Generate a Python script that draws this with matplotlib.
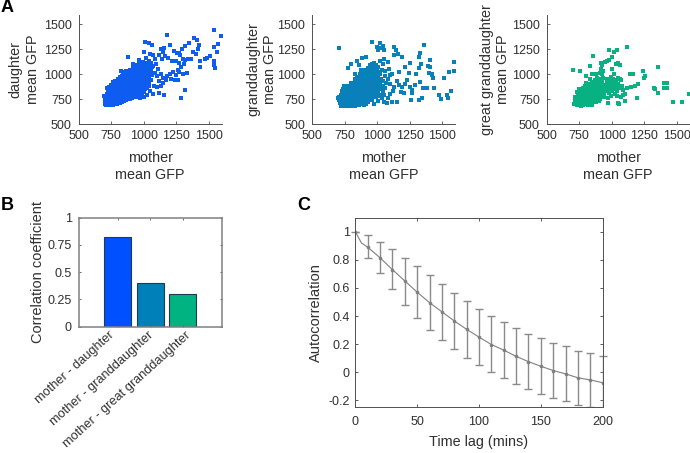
import matplotlib
matplotlib.use('Agg')
import matplotlib.pyplot as plt
from matplotlib.transforms import ScaledTranslation

plt.rcParams['font.family'] = ['Liberation Sans', 'DejaVu Sans']

W, H = 690, 453
tick_vals = [500, 750, 1000, 1250, 1500]
blue = '#0f5df0'
teal = '#0a80ba'
green = '#08b182'
text_col = '#303030'

# scatter values: mother GFP, offspring GFP
daughter_pts = [
 (695,785),(704,700),(706,730),(702,760),(712,690),(722,715),(716,745),(724,775),(718,805),(722,835),(716,865),
 (735,692),(740,722),(733,750),(741,778),(735,808),(740,838),(734,868),(748,690),(752,716),(758,744),(750,772),
 (757,802),(750,830),(756,860),(750,890),(766,695),(770,722),(764,752),(771,782),(765,810),(770,838),(764,868),(770,898),(764,925),
 (782,698),(788,726),(780,756),(787,784),(781,812),(788,842),(780,872),(787,900),(780,930),(798,702),(804,732),(796,760),(803,788),
 (797,816),(804,846),(796,874),(803,904),(797,935),(806,950),(814,712),(820,740),(812,768),(819,798),(813,826),(820,854),(812,884),
 (819,912),(813,942),(820,972),(830,722),(836,750),(828,778),(835,806),(829,836),(836,864),(828,892),(835,922),(829,950),(836,980),
 (828,1035),(846,735),(852,762),(844,790),(851,818),(845,848),(852,876),(844,904),(851,934),(845,962),(852,990),(844,1020),
 (862,740),(868,768),(860,798),(867,826),(861,854),(868,882),(860,912),(867,940),(861,970),(868,998),(860,1028),(878,748),(884,776),
 (876,804),(883,834),(877,862),(884,890),(876,918),(883,948),(877,976),(884,1004),(876,1034),(894,752),(900,782),(892,810),(899,838),
 (893,866),(900,896),(892,924),(899,952),(893,982),(900,1010),(892,1040),(910,760),(916,788),(908,816),(915,846),(909,874),(916,902),
 (908,930),(915,960),(909,988),(916,1016),(908,1046),(915,1075),(926,770),(932,798),(924,826),(931,854),(925,884),(932,912),(924,940),
 (931,968),(925,998),(932,1026),(924,1054),(931,1084),(942,775),(948,804),(940,834),(947,862),(941,890),(948,918),(940,948),(947,976),
 (941,1004),(948,1034),(940,1062),(947,1090),(958,785),(964,812),(956,840),(963,870),(957,898),(964,926),(956,956),(963,984),(957,1012),
 (964,1042),(956,1070),(963,1098),(974,795),(980,824),(972,852),(979,880),(973,908),(980,938),(972,966),(979,994),(973,1024),(980,1052),
 (972,1080),(979,1108),(990,812),(996,840),(988,868),(995,898),(989,926),(996,954),(988,982),(995,1012),(989,1040),(996,1068),(988,1098),
 (995,1126),(1006,825),(1012,852),(1004,882),(1011,910),(1005,938),(1012,968),(1004,996),(1011,1024),(1005,1054),(1012,1082),(1004,1110),
 (1022,860),(1028,888),(1020,918),(1027,946),(1021,974),(1028,1002),(1020,1032),(1027,1060),(1021,1088),(1028,1116),(1038,880),(1044,925),
 (1036,955),(1043,985),(1037,1015),(1044,1045),(1036,1075),(1043,1105),(1037,1130),(1056,940),(1060,990),(1055,1030),(1062,1070),(1054,1110),
 (1539,1447),(1596,1380),(1570,1306),(1544,1269),(1560,1228),(1539,1128),(1544,1094),(1552,1060),(1508,1185),(1475,1151),(1490,1160),
 (1431,1128),(1436,1077),(1423,1296),(1385,1363),(1410,1340),(1346,1312),(1295,1252),(1320,1279),(1179,1396),(1007,1322),(1043,1312),
 (1063,1296),(999,1228),(1153,1262),(1205,1296),(1320,842),(1287,765),(1115,809),(1153,792),(1269,1212),(1130,1250),(1150,1225),
 (1120,1190),(1140,1150),(1160,1180),(1190,1160),(1215,1130),(1235,1230),(1255,1210),(1280,1190),(1300,1150),(1320,1140),(1340,1150),
 (1360,1155),(1380,1225),(1420,1250),(1405,1200),(1250,1130),(1270,1110),(1290,1070),(1275,1020),(1300,1000),(1330,1015),(1245,990),
 (1225,1020),(1210,955),(1180,980),(1150,960),(1130,1000),(1110,1050),(1095,1100),(1085,1150),(1075,1080),(1090,1010),(1120,930),
 (1150,910),(1175,940),(1200,1000),(1265,940),(1240,940),(1100,870),(1080,880),(1050,830),(1070,800),(1025,790),(1000,770),(975,760),
 (1075,1190),(1050,1200),(1020,1160),(960,1140),(880,1170),(915,1100),(1105,980),(1130,880),(1260,1040),(1310,1100),
]

granddaughter_pts = [
 (695,760),(708,740),(712,710),(704,772),(720,680),(725,708),(718,736),(726,764),(719,792),(725,830),(735,682),(741,710),(733,738),
 (740,766),(734,796),(741,824),(733,852),(740,880),(750,678),(756,706),(748,734),(755,764),(749,792),(756,820),(748,848),(755,880),
 (766,680),(772,708),(764,736),(771,764),(765,794),(772,822),(764,850),(771,878),(782,678),(788,708),(780,736),(787,764),(781,792),
 (788,822),(780,850),(787,880),(798,682),(804,710),(796,738),(803,766),(797,796),(804,824),(796,852),(803,880),(797,910),(814,684),
 (820,712),(812,742),(819,770),(813,798),(820,826),(812,856),(819,884),(813,912),(825,950),(830,680),(836,708),(828,736),(835,764),
 (829,794),(836,822),(828,850),(835,880),(829,908),(836,936),(828,1000),(846,690),(852,718),(844,748),(851,776),(845,804),(852,832),
 (844,862),(851,890),(845,918),(852,946),(844,975),(862,690),(868,718),(860,746),(867,774),(861,804),(868,832),(860,860),(867,888),
 (861,918),(868,946),(860,974),(867,1002),(878,700),(884,728),(876,756),(883,786),(877,814),(884,842),(876,870),(883,900),(877,928),
 (884,956),(876,984),(883,1012),(877,1045),(894,690),(900,720),(892,748),(899,776),(893,804),(900,834),(892,862),(899,890),(893,918),
 (900,948),(892,976),(899,1004),(893,1034),(910,700),(916,728),(908,756),(915,786),(909,814),(916,842),(908,870),(915,900),(909,928),
 (916,956),(908,984),(915,1014),(909,1042),(926,720),(932,750),(924,778),(931,806),(925,836),(932,864),(924,892),(931,920),(925,950),
 (932,978),(924,1006),(931,1034),(925,1064),(942,745),(948,774),(940,802),(947,830),(941,860),(948,888),(940,916),(947,944),(941,974),
 (948,1002),(940,1030),(947,1058),(941,1088),(958,745),(964,790),(956,820),(963,848),(957,876),(964,906),(956,934),(963,962),(957,990),
 (964,1020),(956,1048),(963,1076),(957,1105),(974,700),(980,780),(972,810),(979,840),(973,870),(980,900),(972,930),(979,960),(973,990),
 (980,1020),(972,1050),(979,1080),(973,1108),(990,770),(996,810),(988,850),(995,880),(989,910),(996,940),(988,970),(995,1000),(989,1030),
 (996,1060),(988,1090),(1006,730),(1012,790),(1004,830),(1011,870),(1005,900),(1012,940),(1004,980),(1011,1020),(1005,1070),(1020,780),
 (1028,850),(1022,900),(1030,950),(1024,1000),(1036,760),(1042,820),(1040,880),(1046,930),(1038,1040),(1050,720),(1055,790),(1060,860),
 (1065,910),(1058,980),(1040,1100),
 (708,1262),(958,1322),(1022,1312),(1009,1245),(1048,1239),(1030,1260),(1040,1280),(1000,1270),(1130,1272),(1145,1239),(1189,1178),
 (1356,1296),(1331,1218),(1318,1178),(1403,1138),(1408,1077),(1588,1121),(1421,1003),(1511,960),(1549,1027),(1593,1037),(1567,836),
 (1536,792),(1541,759),(1472,792),(1490,752),(1344,759),(1318,742),(1261,742),(1266,842),(1331,926),(1382,859),(1434,859),(1202,809),
 (1151,725),(1073,708),(1254,1111),(1215,1077),(1292,893),(1125,1190),(1160,1200),(1090,1050),(1110,1000),(1080,950),(1100,900),(1130,870),
 (1150,930),(1170,890),(1190,870),(1210,900),(1225,940),(1185,820),(1100,800),(1120,830),(1080,760),(1110,720),(1255,870),(1265,810),
 (1300,1000),(1320,1060),(1335,1100),(1420,990),(1425,960),(1390,1080),(910,1170),(880,1160),(840,1130),(800,1100),(860,1090),(775,1060),
 (1050,1150),(1020,1130),(1080,1120),(1060,1030),(1095,990),(1170,1020),(1240,1010),(1350,860),(1400,1010),
]

great_pts = [
 (710,700),(716,745),(720,770),(730,720),(735,690),(738,750),(742,780),(730,820),(745,850),(748,700),(752,730),(755,760),(758,790),
 (762,680),(765,715),(768,745),(770,775),(772,805),(775,835),(778,690),(781,725),(784,755),(786,785),(788,815),(790,850),(792,880),
 (794,700),(796,735),(798,765),(800,795),(802,825),(804,910),(806,720),(808,750),(810,780),(812,810),(814,840),(816,870),(818,900),
 (820,690),(822,735),(824,765),(826,795),(828,825),(830,855),(832,885),(834,950),(836,710),(838,745),(840,775),(842,805),(844,835),
 (846,865),(848,895),(850,925),(852,690),(854,725),(856,760),(858,790),(860,820),(862,850),(864,880),(866,910),(868,940),(870,720),
 (872,755),(874,785),(876,815),(878,845),(880,875),(882,905),(884,935),(886,965),(888,770),(890,800),(892,830),(894,860),(896,890),
 (898,920),(900,950),(904,730),(908,780),(912,810),(916,840),(920,870),(924,900),(928,930),(932,960),(936,1030),(912,1010),(920,1050),
 (925,1000),(940,770),(944,800),(948,830),(952,860),(956,890),(960,920),(964,950),(968,710),(972,760),(976,810),(980,850),(984,890),
 (988,930),(992,970),(996,780),(1000,830),(1004,870),(1008,910),(1012,950),(1016,1000),(1020,850),(1024,900),(1028,800),(1032,940),
 (1036,870),(1040,780),(1044,830),(1048,960),(1052,900),(1060,860),(1066,950),(1072,940),(1080,880),(1090,840),(1100,800),(1120,860),
 (1150,870),(1180,880),(1000,1050),(1030,1100),(1050,1110),(1060,1090),(960,1130),(980,1140),(950,1120),(1005,1170),(925,1090),
 (1117,1272),(976,1245),(1040,1245),(1020,1228),(855,1185),(706,1044),(757,1037),(834,1087),(1354,1077),(1143,1003),(1161,1003),(1238,1034),
 (1254,983),(1246,960),(1400,916),(1426,910),(1426,866),(1400,859),(1328,866),(1336,849),(1354,816),(1470,718),(1537,718),(1593,802),
 (1194,758),(1099,735),(1053,701),(1045,715),(1205,900),(1090,790),(1075,770),(800,980),(850,1000),(880,1000),(920,1110),
 (745,810),(760,830),(780,860),(790,760),(815,735),(850,760),(870,800),(905,860),(935,820),(910,750),(880,720),(940,870),
]

corr_labels = ['mother - daughter', 'mother - granddaughter', 'mother - great granddaughter']
corr_vals = [0.825, 0.405, 0.297]
corr_cols = ['#0050ff', '#0080b8', '#00b380']

lag = [0, 5, 10, 20, 30, 40, 50, 60, 70, 80, 90, 100, 110, 120, 130, 140, 150, 160, 170, 180, 190, 200]
acf = [1, 0.92, 0.89, 0.815, 0.73, 0.65, 0.57, 0.495, 0.43, 0.365, 0.305, 0.25, 0.197, 0.157, 0.113, 0.075,
       0.042, 0.012, -0.012, -0.04, -0.055, -0.075]
err_lag = [0, 10, 20, 30, 40, 50, 60, 70, 80, 90, 100, 110, 120, 130, 140, 150, 160, 170, 180, 190, 200]
err_mid = [1, 0.89, 0.815, 0.73, 0.65, 0.57, 0.495, 0.43, 0.365, 0.305, 0.25, 0.197, 0.157, 0.113, 0.075,
           0.042, 0.012, -0.012, -0.04, -0.055, -0.075]
err_up = [1, 0.975, 0.93, 0.875, 0.815, 0.755, 0.69, 0.63, 0.567, 0.507, 0.452, 0.40, 0.357, 0.313, 0.273,
          0.24, 0.208, 0.183, 0.153, 0.138, 0.115]
err_lo = [1, 0.815, 0.707, 0.593, 0.48, 0.387, 0.30, 0.228, 0.165, 0.103, 0.05, 0.0, -0.043, -0.085, -0.122,
          -0.155, -0.185, -0.207, -0.232, -0.25, -0.265]


def px_axes(left, top, right, bottom):
    return fig.add_axes([left / W, 1 - bottom / H, (right - left) / W, (bottom - top) / H])


def scatter_panel(left, pts, col, ylab, pad):
    ax = px_axes(left, 14.5, left + 143, 124)
    ax.scatter([p[0] for p in pts], [p[1] for p in pts], s=5, marker='s', color=col, linewidths=0, clip_on=False)
    ax.set_xlim(500, 1600)
    ax.set_ylim(500, 1600)
    ax.set_xticks(tick_vals)
    ax.set_yticks(tick_vals)
    ax.spines['top'].set_visible(False)
    ax.spines['right'].set_visible(False)
    for s in ['left', 'bottom']:
        ax.spines[s].set_color('#505050')
        ax.spines[s].set_linewidth(0.7)
    ax.tick_params(direction='in', length=2, width=0.6, color='#505050', labelsize=9, labelcolor=text_col)
    ax.tick_params(axis='x', pad=4.5)
    ax.tick_params(axis='y', pad=5)
    ax.set_xlabel('mother\nmean GFP', fontsize=10.4, color=text_col, labelpad=6.5, linespacing=1.25)
    ax.set_ylabel(ylab, fontsize=10.4, color=text_col, labelpad=pad, linespacing=1.25)
    return ax


fig = plt.figure(figsize=(W / 100, H / 100), dpi=100)

scatter_panel(78.7, daughter_pts, blue, 'daughter\nmean GFP', 3)
scatter_panel(312.3, granddaughter_pts, teal, 'granddaughter\nmean GFP', 0)
scatter_panel(546.7, great_pts, green, 'great granddaughter\nmean GFP', 1)

# B
ax_b = px_axes(78.7, 217.7, 221.7, 326.7)
ax_b.bar([1, 2, 3], corr_vals, width=0.82, color=corr_cols, edgecolor='#203a50', linewidth=0.8)
ax_b.set_xlim(-0.2, 4.2)
ax_b.set_ylim(0, 1)
ax_b.set_yticks([0, 0.25, 0.5, 0.75, 1])
ax_b.set_yticklabels(['0', '0.25', '0.5', '0.75', '1'])
ax_b.set_xticks([1, 2, 3])
ax_b.set_xticklabels(corr_labels, rotation=42, ha='right', rotation_mode='anchor', fontsize=9.2)
ax_b.tick_params(direction='in', length=1.5, width=0.6, color='#505050', labelcolor=text_col,
                 top=True, right=True, pad=5)
ax_b.tick_params(axis='y', labelsize=9)
ax_b.tick_params(axis='x', pad=2)
# the rotated labels do not sit evenly under their ticks in the original
for t, dx in zip(ax_b.get_xticklabels(), [-9, -2, 2]):
    t.set_transform(t.get_transform() + ScaledTranslation(dx / 100, 0, fig.dpi_scale_trans))
for s in ax_b.spines.values():
    s.set_color('#808080')
    s.set_linewidth(1.1)
ax_b.set_ylabel('Correlation coefficient', fontsize=10.5, color=text_col, labelpad=2)

# C
ax_c = px_axes(355.3, 217.7, 602.7, 407.3)
ax_c.plot(lag, acf, color='#808080', linewidth=0.8)
lc, caps, bars = ax_c.errorbar(err_lag, err_mid,
                               yerr=[[m - l for m, l in zip(err_mid, err_lo)], [u - m for m, u in zip(err_mid, err_up)]],
                               fmt='none', ecolor='#8a8a8a', elinewidth=1.0, capsize=3, capthick=1.0)
# the upper caps run over the right edge in the original
caps[1].set_clip_on(False)
ax_c.plot(err_lag, err_mid, ls='none', marker='o', ms=1.6, color='#808080')
ax_c.set_xlim(0, 200)
ax_c.set_ylim(-0.25, 1.1)
ax_c.set_xticks([0, 50, 100, 150, 200])
ax_c.set_yticks([-0.2, 0, 0.2, 0.4, 0.6, 0.8, 1])
ax_c.set_yticklabels(['-0.2', '0', '0.2', '0.4', '0.6', '0.8', '1'])
ax_c.tick_params(direction='in', length=2.2, width=0.6, color='#404040', labelsize=9, labelcolor=text_col,
                 top=True, right=True, pad=4)
ax_c.tick_params(axis='x', pad=6.5)
for s in ax_c.spines.values():
    s.set_color('#505050')
    s.set_linewidth(0.7)
ax_c.set_xlabel('Time lag (mins)', fontsize=10.4, color=text_col, labelpad=5)
ax_c.set_ylabel('Autocorrelation', fontsize=10.5, color=text_col, labelpad=4)

for lab, x, y in [('A', 1, 8), ('B', 1, 205), ('C', 297, 205)]:
    fig.text(x / W, 1 - y / H, lab, fontsize=13, fontweight='bold', color='black', va='center')

fig.savefig('out.png', dpi=100)
